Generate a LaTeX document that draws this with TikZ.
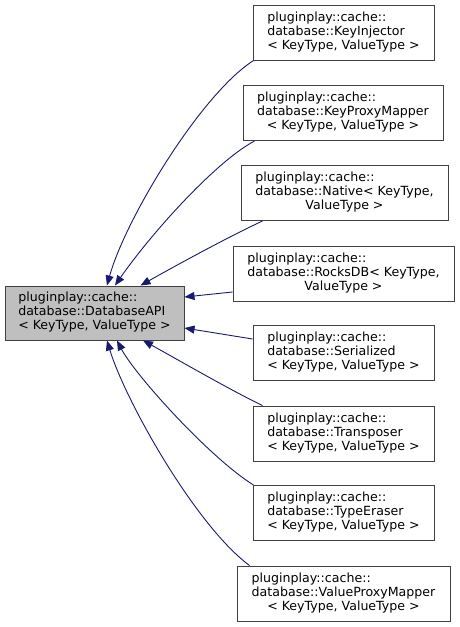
\documentclass[tikz,border=0pt]{standalone}
\usepackage{fontspec}
\setmainfont{DejaVu Sans}
\usetikzlibrary{arrows.meta}
\definecolor{edgeblue}{HTML}{191970}
\definecolor{boxline}{HTML}{404040}
\definecolor{basefill}{HTML}{BFBFBF}
\newcommand{\cls}[3]{\begin{tabular}{@{}l@{}}#1\\#2\\\multicolumn{1}{@{}c@{}}{#3}\end{tabular}}
\tikzset{
  cbox/.style={draw=boxline, line width=1pt, fill=white, inner sep=0pt, minimum height=55pt,
    font=\fontsize{12.6}{14}\selectfont},
  basebox/.style={cbox, fill=basefill, minimum height=54pt},
  edge/.style={draw=edgeblue, line width=0.9pt, -{Triangle[length=10pt,width=8pt]}, fill=none}
}
\begin{document}
\begin{tikzpicture}[x=1pt,y=-1pt]
\useasboundingbox (0,0) rectangle (460,627);
\node[basebox, minimum width=179pt] (base) at (94.5,313) {\cls{pluginplay::cache::}{database::DatabaseAPI}{< KeyType, ValueType >}};
\node[cbox, minimum width=181pt] (ki) at (343.5,32.5) {\cls{pluginplay::cache::}{database::KeyInjector}{< KeyType, ValueType >}};
\node[cbox, minimum width=200pt] (kpm) at (343,113) {\cls{pluginplay::cache::}{database::KeyProxyMapper}{< KeyType, ValueType >}};
\node[cbox, minimum width=207pt] (nat) at (344.5,193) {\cls{pluginplay::cache::}{database::Native< KeyType,}{ValueType >}};
\node[cbox, minimum width=221pt] (rocks) at (343.5,273.5) {\cls{pluginplay::cache::}{database::RocksDB< KeyType,}{ValueType >}};
\node[cbox, minimum width=181pt] (ser) at (343.5,352.5) {\cls{pluginplay::cache::}{database::Serialized}{< KeyType, ValueType >}};
\node[cbox, minimum width=181pt] (tra) at (343.5,433.5) {\cls{pluginplay::cache::}{database::Transposer}{< KeyType, ValueType >}};
\node[cbox, minimum width=181pt] (te) at (343.5,513) {\cls{pluginplay::cache::}{database::TypeEraser}{< KeyType, ValueType >}};
\node[cbox, minimum width=213pt] (vpm) at (343.5,593.5) {\cls{pluginplay::cache::}{database::ValueProxyMapper}{< KeyType, ValueType >}};

\draw[edge] ([xshift=1pt]ki.south west) .. controls (200,95) and (125,220) .. ([xshift=12.5pt]base.north);
\draw[edge] ([xshift=12pt]kpm.south west) .. controls (215,162) and (150,235) .. ([xshift=20.5pt]base.north);
\draw[edge] ([xshift=22pt]nat.south west) .. controls (230,236) and (175,266) .. ([xshift=46pt]base.north);
\draw[edge] ([yshift=-18.5pt]rocks.west) -- ([yshift=16pt]base.east);
\draw[edge] ([yshift=13.5pt]ser.west) -- ([yshift=-15pt]base.east);
\draw[edge] ([xshift=10pt]tra.north west) .. controls (230,390) and (175,358) .. ([xshift=48.5pt]base.south);
\draw[edge] ([xshift=1pt]te.north west) .. controls (210,458) and (135,375) .. ([xshift=22.5pt]base.south);
\draw[edge] ([xshift=13pt]vpm.north west) .. controls (195,525) and (125,400) .. ([xshift=12.5pt]base.south);
\end{tikzpicture}
\end{document}
